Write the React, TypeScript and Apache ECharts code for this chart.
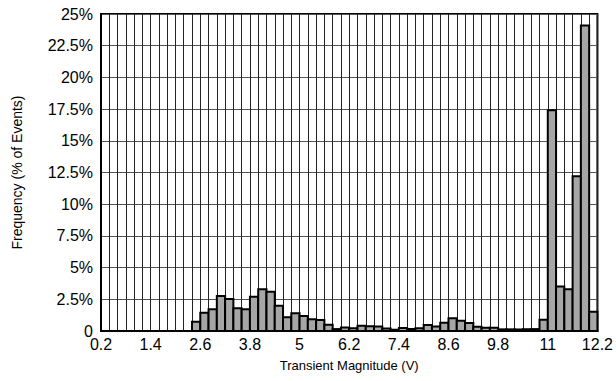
import React, { useEffect, useRef } from "react";
import * as echarts from "echarts";

const binStarts = [
  0.2, 0.4, 0.6, 0.8, 1.0, 1.2, 1.4, 1.6, 1.8, 2.0,
  2.2, 2.4, 2.6, 2.8, 3.0, 3.2, 3.4, 3.6, 3.8, 4.0,
  4.2, 4.4, 4.6, 4.8, 5.0, 5.2, 5.4, 5.6, 5.8, 6.0,
  6.2, 6.4, 6.6, 6.8, 7.0, 7.2, 7.4, 7.6, 7.8, 8.0,
  8.2, 8.4, 8.6, 8.8, 9.0, 9.2, 9.4, 9.6, 9.8, 10.0,
  10.2, 10.4, 10.6, 10.8, 11.0, 11.2, 11.4, 11.6, 11.8, 12.0,
];
const binWidth = 0.2;
const frequency = [
  0, 0, 0, 0, 0, 0, 0, 0, 0, 0,
  0, 0.73, 1.44, 1.71, 2.76, 2.52, 1.79, 1.71, 2.71, 3.29,
  3.1, 2.0, 1.08, 1.39, 1.18, 0.92, 0.87, 0.5, 0.15, 0.28,
  0.22, 0.42, 0.38, 0.36, 0.2, 0.1, 0.24, 0.16, 0.22, 0.47,
  0.35, 0.66, 1.0, 0.81, 0.63, 0.34, 0.26, 0.26, 0.13, 0.13,
  0.12, 0.14, 0.15, 0.88, 17.4, 3.5, 3.29, 12.2, 24.1, 1.52,
];
const xMin = 0.2;
const xMax = 12.2;
const xLabelEvery = 6; // label every 1.2 V
const yMax = 25;
const yStep = 2.5;

const FONT = "'Liberation Sans', Arial, sans-serif";

export default function App() {
  const ref = useRef<HTMLDivElement>(null);
  useEffect(() => {
    if (!ref.current) return;
    const chart = echarts.init(ref.current, undefined, { renderer: "svg" });
    const data = binStarts.map((s, i) => [s, +(s + binWidth).toFixed(2), frequency[i]]);
    chart.setOption({
      animation: false,
      backgroundColor: "#fff",
      grid: {
        left: 101,
        right: 16,
        top: 14,
        bottom: 50,
        show: true,
        borderColor: "#000",
        borderWidth: 2,
        backgroundColor: "#fff",
      },
      xAxis: {
        type: "value",
        min: xMin,
        max: xMax,
        interval: binWidth,
        name: "Transient Magnitude (V)",
        nameLocation: "middle",
        nameGap: 28,
        nameTextStyle: { fontFamily: FONT, fontSize: 13, color: "#000" },
        axisLine: { show: true, lineStyle: { color: "#000", width: 2 } },
        axisTick: { show: false },
        axisLabel: {
          fontFamily: FONT,
          fontSize: 16,
          color: "#000",
          margin: 5,
          showMinLabel: true,
          showMaxLabel: true,
          formatter: (v: number) => {
            const k = Math.round((v - xMin) / binWidth);
            return k % xLabelEvery === 0 ? String(+v.toFixed(1)) : "";
          },
        },
        splitLine: { show: true, lineStyle: { color: "#222", width: 1 } },
      },
      yAxis: {
        type: "value",
        min: 0,
        max: yMax,
        interval: yStep,
        name: "Frequency (% of Events)",
        nameLocation: "middle",
        nameGap: 77,
        nameTextStyle: { fontFamily: FONT, fontSize: 14, color: "#000" },
        axisLine: { show: true, lineStyle: { color: "#000", width: 2 } },
        axisTick: { show: false },
        axisLabel: {
          fontFamily: FONT,
          fontSize: 16,
          color: "#000",
          margin: 8,
          formatter: (v: number) => (v === 0 ? "0" : `${v}%`),
        },
        splitLine: { show: true, lineStyle: { color: "#555", width: 1 } },
      },
      series: [
        {
          type: "custom",
          data,
          encode: { x: [0, 1], y: 2 },
          renderItem: (params: any, api: any) => {
            const x0 = api.value(0);
            const x1 = api.value(1);
            const y = api.value(2);
            if (!y) return null;
            const p0 = api.coord([x0, y]);
            const p1 = api.coord([x1, 0]);
            return {
              type: "rect",
              shape: { x: p0[0], y: p0[1], width: p1[0] - p0[0], height: p1[1] - p0[1] },
              style: { fill: "#a6a6a6", stroke: "#000", lineWidth: 2 },
            };
          },
        },
      ],
    });
    return () => chart.dispose();
  }, []);
  return (
    <div
      ref={ref}
      style={{ position: "fixed", left: 0, top: 0, width: 616, height: 381 }}
    />
  );
}
